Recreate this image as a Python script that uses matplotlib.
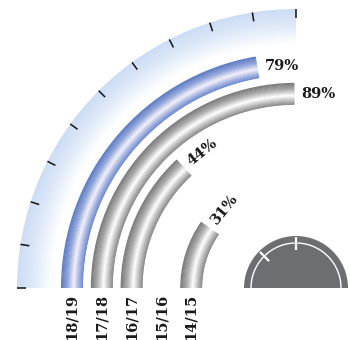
import numpy as np
import matplotlib
matplotlib.use("Agg")
import matplotlib.pyplot as plt
from matplotlib.patches import Wedge
from matplotlib.colors import to_rgb

# 赛季与百分比（15/16 无数据）
seasons = ['18/19', '17/18', '16/17', '15/16', '14/15']
values = [79, 89, 44, np.nan, 31]
highlight = '18/19'

# 角度刻度：数值映射到 0~90 度
VMIN, VMAX = -6, 89.5

CX, CY = 296, 52          # 圆心（数据坐标）
R0, STEP, BW = 235, 29.8, 22   # 最外圈外半径、圈距、环宽


def sweep_of(v):
    return 90.0 * (v - VMIN) / (VMAX - VMIN)


def profile(stops, t):
    """按位置 t 插值颜色"""
    pos = [s[0] for s in stops]
    cols = np.array([to_rgb(s[1]) for s in stops])
    return tuple(np.interp(t, pos, cols[:, i]) for i in range(3))


gray_stops = [(0, '#777777'), (0.3, '#acacac'), (0.58, '#ffffff'),
              (0.8, '#bdbdbd'), (1, '#858585')]
blue_stops = [(0, '#5878c2'), (0.3, '#91a6da'), (0.58, '#f3f0fa'),
              (0.8, '#a6b5e2'), (1, '#6986cd')]
band_stops = [(0, '#cbdcf4'), (0.35, '#dde8f8'), (0.8, '#ffffff'), (1, '#ffffff')]


def shaded_ring(ax, r_out, width, t1, t2, stops, n=24):
    dr = width / n
    for k in range(n):
        t = (k + 0.5) / n
        w = dr * 1.6 if k < n - 1 else dr
        ax.add_patch(Wedge((CX, CY), r_out - k * dr, t1, t2, width=w,
                           facecolor=profile(stops, t), linewidth=0))


fig = plt.figure(figsize=(3.5, 3.4), dpi=100)
ax = fig.add_axes([0, 0, 1, 1])
ax.set_xlim(0, 350)
ax.set_ylim(0, 340)
ax.set_aspect('equal')
ax.axis('off')

# 外圈浅蓝色渐变背景及刻度
shaded_ring(ax, 279, 44, 90, 180, band_stops, n=40)
for a in np.radians(np.linspace(90, 180, 11)):
    ax.plot([CX + 270 * np.cos(a), CX + 279 * np.cos(a)],
            [CY + 270 * np.sin(a), CY + 279 * np.sin(a)],
            color='#111111', lw=1.1, solid_capstyle='butt')

lab_font = dict(family='DejaVu Serif', weight='bold', size=10.5, color='#1a1a1a')

for i, (s, v) in enumerate(zip(seasons, values)):
    r_out = R0 - i * STEP
    r_mid = r_out - BW / 2
    if not np.isnan(v):
        sw = sweep_of(v)
        stops = blue_stops if s == highlight else gray_stops
        shaded_ring(ax, r_out, BW, 180 - sw, 180, stops)
        # 数值标签放在环的末端
        a = np.radians(180 - sw) - 7.0 / r_mid
        rot = 90 - sw - 4 if sw < 60 else 0
        ax.text(CX + r_mid * np.cos(a), CY + r_mid * np.sin(a), f'{v:.0f}%',
                rotation=rot, rotation_mode='anchor', ha='left', va='center',
                **lab_font)
    # 赛季标签
    ax.text(CX - r_mid, CY - 6, s, rotation=90, ha='center', va='top',
            **lab_font)

# 右下角小仪表
ax.add_patch(Wedge((CX, CY), 52, 0, 180, facecolor='#6d6e72', linewidth=0))
th = np.linspace(0, np.pi, 200)
ax.plot(CX + 45 * np.cos(th), CY + 45 * np.sin(th), color='white', lw=1.0)
for a in np.radians([90, 135]):
    ax.plot([CX + 38 * np.cos(a), CX + 51 * np.cos(a)],
            [CY + 38 * np.sin(a), CY + 51 * np.sin(a)],
            color='white', lw=1.6, solid_capstyle='butt')

fig.savefig('out.png', dpi=100)
plt.close(fig)
